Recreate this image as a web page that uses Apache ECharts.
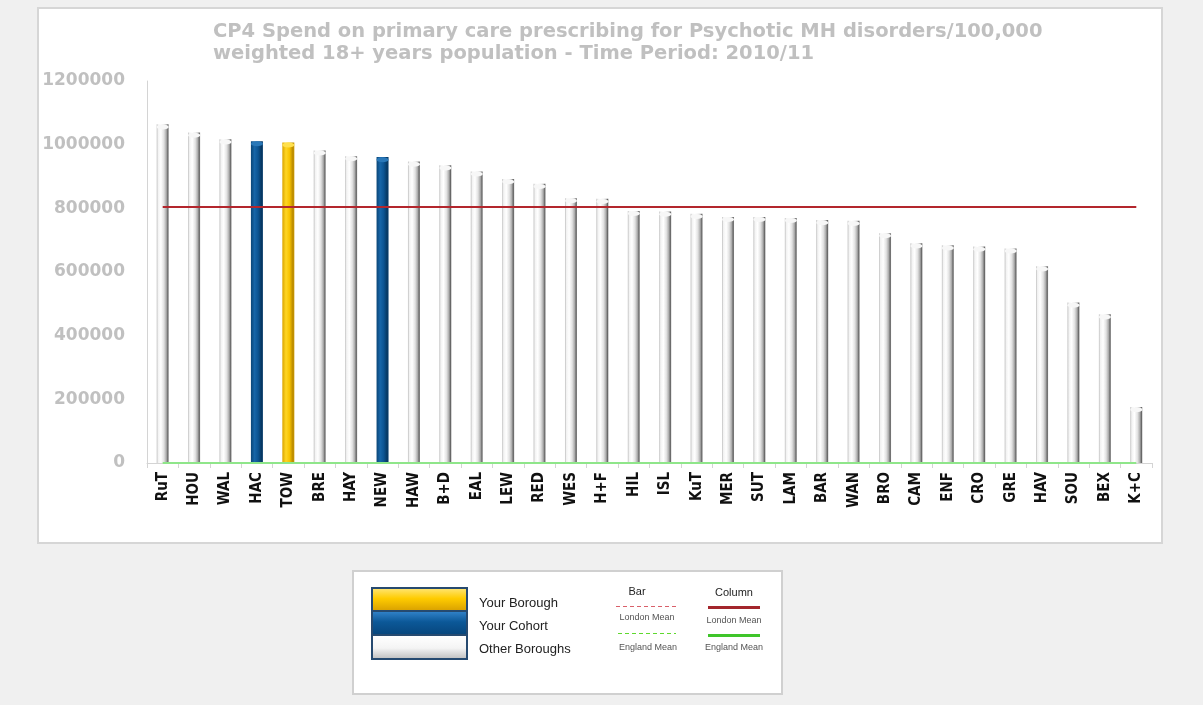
<!DOCTYPE html>
<html>
<head>
<meta charset="utf-8">
<title>CP4 Spend on primary care prescribing</title>
<script src="https://cdn.jsdelivr.net/npm/echarts@6/dist/echarts.min.js"></script>
<style>
  html, body { margin: 0; padding: 0; background: #f0f0f0; }
  #chart { width: 1203px; height: 705px; }
</style>
</head>
<body>
<div id="chart"></div>
<script>
// Borough codes, ordered by spend
const categories = ['RuT','HOU','WAL','HAC','TOW','BRE','HAY','NEW','HAW','B+D','EAL','LEW','RED','WES','H+F','HIL',
                    'ISL','KuT','MER','SUT','LAM','BAR','WAN','BRO','CAM','ENF','CRO','GRE','HAV','SOU','BEX','K+C'];

// Spend per 100,000 weighted 18+ population, 2010/11
const spend = [1064000,1038000,1017000,1011000,1007000,982000,964000,961000,947000,935000,916000,892000,877000,832000,830000,792000,
               790000,783000,773000,773000,770000,763000,761000,722000,690000,684000,680000,674000,618000,504000,467000,176000];

// Which group each borough belongs to
const groups = ['other','other','other','cohort','borough','other','other','cohort','other','other','other','other','other','other','other','other',
                'other','other','other','other','other','other','other','other','other','other','other','other','other','other','other','other'];

const londonMean = 804000;
const englandMean = 0;

const yTicks = { min: 0, max: 1200000, interval: 200000 };

const G = echarts.graphic;
function hGrad(stops) {
  return new G.LinearGradient(0, 0, 1, 0, stops.map(s => ({ offset: s[0], color: s[1] })));
}
function vGrad(stops) {
  return new G.LinearGradient(0, 0, 0, 1, stops.map(s => ({ offset: s[0], color: s[1] })));
}

const barFill = {
  other: hGrad([[0,'#bdbdbd'],[0.12,'#f2f2f2'],[0.35,'#ffffff'],[0.6,'#e2e2e2'],[0.8,'#acacac'],[0.93,'#666666'],[1,'#8a8a8a']]),
  cohort: hGrad([[0,'#0b4677'],[0.3,'#1766a8'],[0.6,'#0c5492'],[0.88,'#063862'],[1,'#0a3f6e']]),
  borough: hGrad([[0,'#d9a300'],[0.3,'#ffd625'],[0.6,'#f7c200'],[0.88,'#b88900'],[1,'#cf9a00']])
};
const capFill = { other: '#f7f7f7', cohort: '#2a78b8', borough: '#ffe04d' };

const barData = spend.map((v, i) => ({ value: v, itemStyle: { color: barFill[groups[i]] } }));
const capData = spend.map((v, i) => ({ value: v, itemStyle: { color: capFill[groups[i]], borderColor: 'rgba(0,0,0,0.18)', borderWidth: 0.5 } }));

const chart = echarts.init(document.getElementById('chart'), null, { renderer: 'canvas' });

const legendX = 353, legendY = 571;
const keyFont = '13px "Liberation Sans", sans-serif';
const smallFont = '9px "Liberation Sans", sans-serif';

chart.setOption({
  backgroundColor: 'transparent',
  animation: false,
  title: {
    text: 'CP4 Spend on primary care prescribing for Psychotic MH disorders/100,000\nweighted 18+ years population - Time Period: 2010/11',
    left: 213,
    top: 21,
    padding: 0,
    textStyle: {
      fontFamily: 'DejaVu Sans',
      fontWeight: 'bold',
      fontSize: 19.5,
      lineHeight: 22,
      color: '#c0c0c0'
    }
  },
  grid: { left: 147, right: 51, top: 81, bottom: 242, containLabel: false },
  xAxis: {
    type: 'category',
    data: categories,
    boundaryGap: true,
    axisLine: { lineStyle: { color: '#d4d4d4', width: 1 } },
    axisTick: { show: true, length: 5, lineStyle: { color: '#d4d4d4' } },
    axisLabel: {
      interval: 0,
      rotate: 90,
      margin: 9,
      fontFamily: "'Liberation Sans Narrow', 'DejaVu Sans Condensed', sans-serif",
      fontWeight: 'bold',
      fontSize: 15,
      color: '#111111'
    }
  },
  yAxis: {
    type: 'value',
    min: yTicks.min,
    max: yTicks.max,
    interval: yTicks.interval,
    splitLine: { show: false },
    axisTick: { show: false },
    axisLine: { show: true, lineStyle: { color: '#d4d4d4', width: 1 } },
    axisLabel: {
      margin: 22,
      formatter: v => String(v),
      fontFamily: 'DejaVu Sans',
      fontWeight: 'bold',
      fontSize: 17,
      color: '#c0c0c0'
    }
  },
  series: [
    {
      name: 'Spend',
      type: 'bar',
      barWidth: 12,
      data: barData,
      z: 2
    },
    {
      name: 'Cap',
      type: 'pictorialBar',
      symbol: 'circle',
      symbolSize: [12, 5],
      symbolPosition: 'end',
      symbolOffset: [0, 0],
      data: capData,
      z: 3
    },
    {
      name: 'England Mean',
      type: 'line',
      data: categories.map(() => englandMean),
      symbol: 'none',
      lineStyle: { color: '#8fe68a', width: 2 },
      z: 4
    },
    {
      name: 'London Mean',
      type: 'line',
      data: categories.map(() => londonMean),
      symbol: 'none',
      lineStyle: { color: '#b3262d', width: 2 },
      z: 5
    }
  ],
  graphic: [
    // chart panel
    { type: 'rect', z: -10, silent: true, shape: { x: 38, y: 8, width: 1124, height: 535 },
      style: { fill: '#ffffff', stroke: '#d6d6d6', lineWidth: 2 } },
    // legend panel
    { type: 'rect', z: -10, silent: true, shape: { x: legendX, y: legendY, width: 429, height: 123 },
      style: { fill: '#ffffff', stroke: '#d0d0d0', lineWidth: 2 } },
    // colour key block
    { type: 'rect', silent: true, shape: { x: 371, y: 587, width: 97, height: 73 },
      style: { fill: '#264a70' } },
    { type: 'rect', silent: true, shape: { x: 373, y: 589, width: 93, height: 21 },
      style: { fill: vGrad([[0,'#ffe36b'],[0.45,'#ffcc00'],[1,'#dba300']]) } },
    { type: 'rect', silent: true, shape: { x: 373, y: 612, width: 93, height: 22 },
      style: { fill: vGrad([[0,'#2f80c6'],[0.45,'#0c5898'],[1,'#07477e']]) } },
    { type: 'rect', silent: true, shape: { x: 373, y: 636, width: 93, height: 22 },
      style: { fill: vGrad([[0,'#ffffff'],[0.55,'#f4f4f4'],[1,'#c4c4c4']]) } },
    { type: 'text', silent: true, style: { x: 479, y: 603, text: 'Your Borough', fill: '#222', font: keyFont, verticalAlign: 'middle' } },
    { type: 'text', silent: true, style: { x: 479, y: 626, text: 'Your Cohort', fill: '#222', font: keyFont, verticalAlign: 'middle' } },
    { type: 'text', silent: true, style: { x: 479, y: 649, text: 'Other Boroughs', fill: '#222', font: keyFont, verticalAlign: 'middle' } },
    // mean line keys
    { type: 'text', silent: true, style: { x: 637, y: 592, text: 'Bar', fill: '#222', font: '11px "Liberation Sans", sans-serif', align: 'center', verticalAlign: 'middle' } },
    { type: 'line', silent: true, shape: { x1: 616, y1: 606.5, x2: 676, y2: 606.5 },
      style: { stroke: '#d9606a', lineWidth: 1, lineDash: [4, 3] } },
    { type: 'text', silent: true, style: { x: 647, y: 618, text: 'London Mean', fill: '#555', font: smallFont, align: 'center', verticalAlign: 'middle' } },
    { type: 'line', silent: true, shape: { x1: 618, y1: 633.5, x2: 676, y2: 633.5 },
      style: { stroke: '#5fd92e', lineWidth: 1, lineDash: [4, 3] } },
    { type: 'text', silent: true, style: { x: 648, y: 648, text: 'England Mean', fill: '#555', font: smallFont, align: 'center', verticalAlign: 'middle' } },
    { type: 'text', silent: true, style: { x: 734, y: 593, text: 'Column', fill: '#222', font: '11px "Liberation Sans", sans-serif', align: 'center', verticalAlign: 'middle' } },
    { type: 'line', silent: true, shape: { x1: 708, y1: 607.5, x2: 760, y2: 607.5 },
      style: { stroke: '#a3262c', lineWidth: 3 } },
    { type: 'text', silent: true, style: { x: 734, y: 621, text: 'London Mean', fill: '#555', font: smallFont, align: 'center', verticalAlign: 'middle' } },
    { type: 'line', silent: true, shape: { x1: 708, y1: 635.5, x2: 760, y2: 635.5 },
      style: { stroke: '#3fc52a', lineWidth: 3 } },
    { type: 'text', silent: true, style: { x: 734, y: 648, text: 'England Mean', fill: '#555', font: smallFont, align: 'center', verticalAlign: 'middle' } }
  ]
});
</script>
</body>
</html>
